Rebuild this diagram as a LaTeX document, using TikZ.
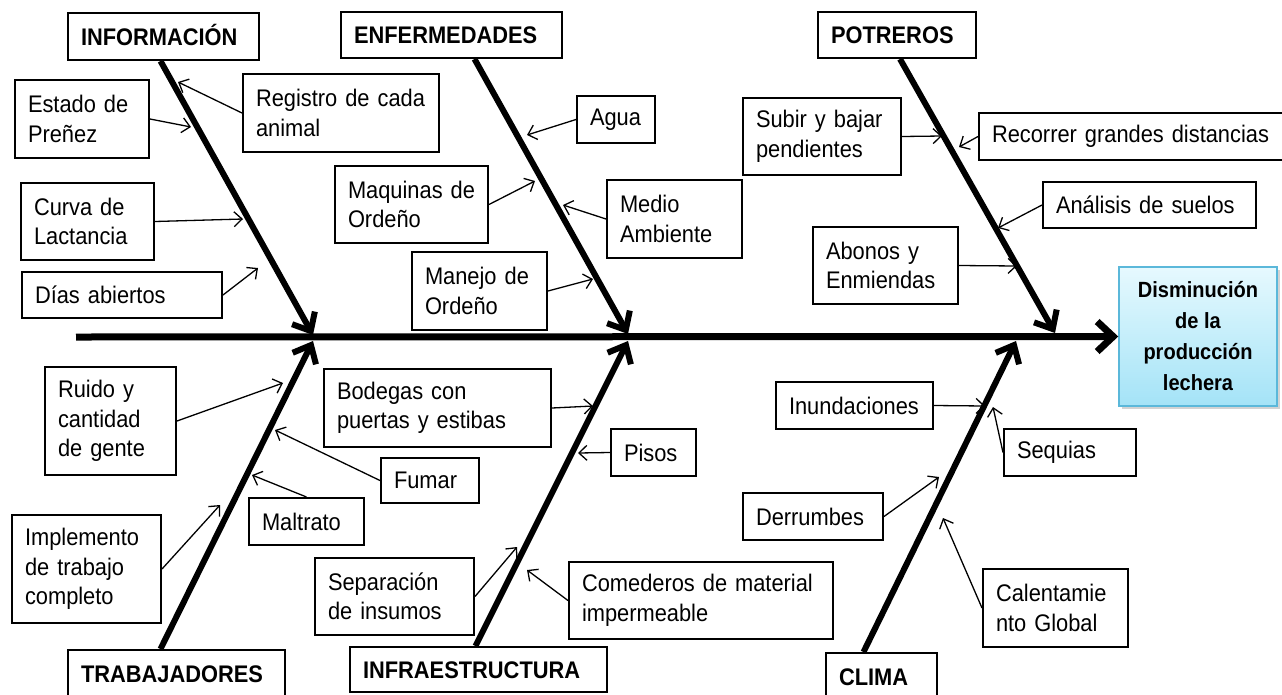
\documentclass[tikz,border=0pt]{standalone}
\usepackage{fontspec}
\setmainfont{Liberation Sans}[FakeStretch=0.91]
\usetikzlibrary{arrows.meta}
\usetikzlibrary{shadows}

\definecolor{celesteclaro}{HTML}{E6F9FE}
\definecolor{celeste}{HTML}{A4E3F7}
\definecolor{bordeceleste}{HTML}{5BB8DA}

\begin{document}
\begin{tikzpicture}[x=1pt,y=-1pt,
    caja/.style 2 args={minimum width=#1pt, text width=#1pt-26pt, minimum height=#2pt}]
    \useasboundingbox (0,0) rectangle (1282,694);
    \clip (0,0) rectangle (1282,694);
    % categorias
    \begin{scope}[every node/.style={draw,line width=2pt,fill=white,inner xsep=13pt,inner ysep=0pt,
        align=left,text height=17pt,text depth=0pt,font=\fontsize{24}{28}\selectfont\bfseries}]
      \node[caja={191}{47}] (info) at (163.5,36.5) {INFORMACIÓN};
      \node[caja={221}{46}] (enf) at (451.5,35) {ENFERMEDADES};
      \node[caja={158}{46}] (potreros) at (897,35) {POTREROS};
      \node[caja={217}{47}] (trab) at (176.5,673.5) {TRABAJADORES};
      \node[caja={257}{45}] (infra) at (478.5,669.5) {INFRAESTRUCTURA};
      \node[caja={111}{47}] (clima) at (881.5,676.5) {CLIMA};
    \end{scope}
    % causas
    \begin{scope}[every node/.style={draw,line width=2pt,fill=white,inner xsep=13pt,inner ysep=0pt,
        align=left,font=\fontsize{24}{29.5}\selectfont}]
      \node[caja={134}{78}] (estado) at (82,119) {Estado~de\\Preñez};
      \node[caja={196}{78}] (registro) at (341,113) {Registro~de~cada\\animal};
      \node[caja={133}{77}] (curva) at (87.5,221.5) {Curva~de\\Lactancia};
      \node[caja={200}{46}] (dias) at (122,295) {Días abiertos};
      \node[caja={153}{77}] (maquinas) at (411.5,204.5) {Maquinas~de\\Ordeño};
      \node[caja={135}{78}] (manejo) at (479.5,291) {Manejo~de\\Ordeño};
      \node[caja={78}{47}] (agua) at (616,119.5) {Agua};
      \node[caja={135}{78}] (medio) at (674.5,219) {Medio\\Ambiente};
      \node[caja={158}{77}] (subir) at (822,136.5) {Subir~y~bajar\\pendientes};
      \node[caja={305}{47}] (recorrer) at (1131.5,136.5) {Recorrer~grandes~distancias};
      \node[caja={213}{46}] (analisis) at (1149.5,205) {Análisis de suelos};
      \node[caja={145}{77}] (abonos) at (885.5,265.5) {Abonos~y\\Enmiendas};
      \node[caja={131}{108}] (ruido) at (110.5,421) {Ruido~y\\cantidad\\de~gente};
      \node[caja={149}{108}] (implemento) at (86.5,569) {Implemento\\de~trabajo\\completo};
      \node[caja={98}{45}] (fumar) at (430,480.5) {Fumar};
      \node[caja={115}{47}] (maltrato) at (306.5,521.5) {Maltrato};
      \node[caja={227}{78}] (bodegas) at (437.5,408) {Bodegas~con\\puertas~y~estibas};
      \node[caja={85}{47}] (pisos) at (653.5,452.5) {Pisos};
      \node[caja={159}{77}] (separacion) at (394.5,596.5) {Separación\\de~insumos};
      \node[caja={264}{77}] (comederos) at (701,600.5) {Comederos~de~material\\impermeable};
      \node[caja={157}{47}] (inundaciones) at (854.5,405.5) {Inundaciones};
      \node[caja={132}{47}] (sequias) at (1070,452.5) {Sequias};
      \node[caja={140}{47}] (derrumbes) at (813,516.5) {Derrumbes};
      \node[caja={145}{78}] (calentamiento) at (1055.5,608) {Calentamie\\nto~Global};
    \end{scope}
    % efecto
    \node[draw=bordeceleste,line width=1.5pt,top color=celesteclaro,bottom color=celeste,
      drop shadow={opacity=0.35,shadow xshift=3pt,shadow yshift=-3pt},
      minimum width=158pt,minimum height=139pt,align=center,
      font=\fontsize{22}{31}\selectfont\bfseries] (efecto) at (1198,336.5)
      {Disminución\\de la\\producción\\lechera};

    % puntos sobre la espina central
    \coordinate (cola) at (76,337);
    \coordinate (e1) at (313,335);
    \coordinate (e2) at (628,334);
    \coordinate (e3) at (1055,333);
    \coordinate (b1) at (313,341);
    \coordinate (b2) at (628,341);
    \coordinate (b3) at (1016,341);

    % espinas
    \draw[line width=7pt,-{Straight Barb[length=16pt,width=30pt]}] (cola) -- (efecto.west);
    \begin{scope}[line width=6pt]
      \draw[-{Straight Barb[length=15pt,width=26pt]}] ([xshift=-3pt]info.south) -- (e1);
      \draw[-{Straight Barb[length=15pt,width=26pt]}] ([xshift=23pt]enf.south) -- (e2);
      \draw[-{Straight Barb[length=15pt,width=26pt]}] ([xshift=3pt]potreros.south) -- (e3);
      \draw[-{Straight Barb[length=15pt,width=26pt]}] ([xshift=-16pt]trab.north) -- (b1);
      \draw[-{Straight Barb[length=15pt,width=26pt]}] ([xshift=-3pt]infra.north) -- (b2);
      \draw[-{Straight Barb[length=15pt,width=26pt]}] ([xshift=-18pt]clima.north) -- (b3);
    \end{scope}

    % llegadas de las flechas
    \coordinate (registro-p) at (178,82);
    \coordinate (estado-p) at (191,127);
    \coordinate (curva-p) at (243,219);
    \coordinate (dias-p) at (258,268);
    \coordinate (agua-p) at (527,135);
    \coordinate (maquinas-p) at (535,181);
    \coordinate (medio-p) at (563,205);
    \coordinate (manejo-p) at (593,279);
    \coordinate (subir-p) at (942,136);
    \coordinate (recorrer-p) at (959,147);
    \coordinate (analisis-p) at (998,228);
    \coordinate (abonos-p) at (1017,266);
    \coordinate (ruido-p) at (283,383);
    \coordinate (implemento-p) at (220,505);
    \coordinate (fumar-p) at (275,430);
    \coordinate (maltrato-p) at (252,475);
    \coordinate (bodegas-p) at (593,406);
    \coordinate (pisos-p) at (578,453);
    \coordinate (separacion-p) at (517,547);
    \coordinate (comederos-p) at (527,570);
    \coordinate (inundaciones-p) at (985,406);
    \coordinate (sequias-p) at (993,407);
    \coordinate (derrumbes-p) at (939,477);
    \coordinate (calentamiento-p) at (943,518);

    \begin{scope}[every edge/.style={draw=black,line width=1.3pt,-{Straight Barb[length=8pt,width=15pt]}}]
      \path (registro.west) edge (registro-p);
      \path (estado.east) edge (estado-p);
      \path (curva.east) edge (curva-p);
      \path (dias.east) edge (dias-p);
      \path (agua.west) edge (agua-p);
      \path (maquinas.east) edge (maquinas-p);
      \path (medio.west) edge (medio-p);
      \path (manejo.east) edge (manejo-p);
      \path (subir.east) edge (subir-p);
      \path (recorrer.west) edge (recorrer-p);
      \path (analisis.west) edge (analisis-p);
      \path (abonos.east) edge (abonos-p);
      \path (ruido.east) edge (ruido-p);
      \path (implemento.east) edge (implemento-p);
      \path (fumar.west) edge (fumar-p);
      \path (maltrato.north) edge (maltrato-p);
      \path (bodegas.east) edge (bodegas-p);
      \path (pisos.west) edge (pisos-p);
      \path (separacion.east) edge (separacion-p);
      \path (comederos.west) edge (comederos-p);
      \path (inundaciones.east) edge (inundaciones-p);
      \path (sequias.west) edge (sequias-p);
      \path (derrumbes.east) edge (derrumbes-p);
      \path (calentamiento.west) edge (calentamiento-p);
    \end{scope}
  \end{tikzpicture}
\end{document}
